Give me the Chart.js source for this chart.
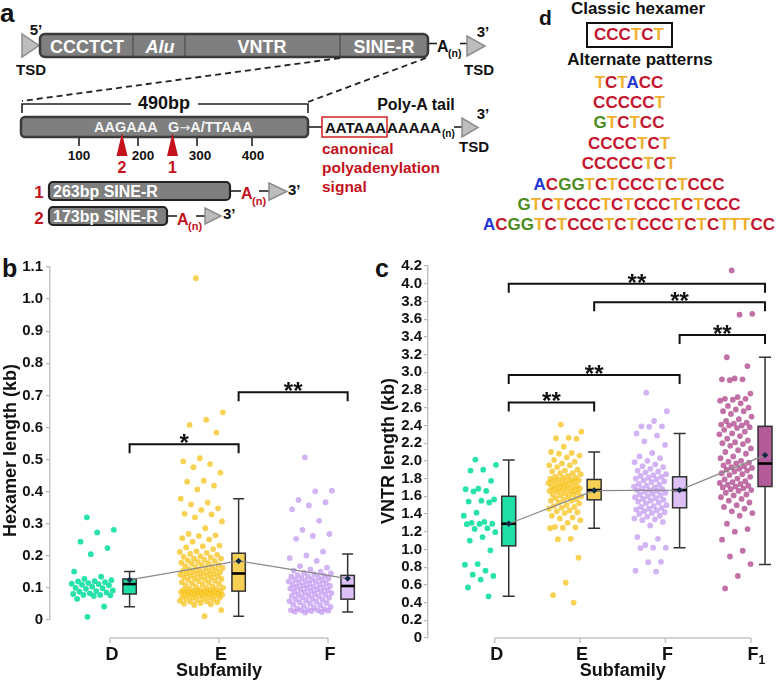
<!DOCTYPE html>
<html><head><meta charset="utf-8">
<script src="https://cdn.jsdelivr.net/npm/chart.js@4.4.1/dist/chart.umd.min.js"></script>
<style>
html,body{margin:0;padding:0;background:#fff;}
#wrap{position:relative;width:778px;height:683px;overflow:hidden;}
#diag{position:absolute;left:0;top:0;}
canvas{position:absolute;}
#cb{left:0;top:255px;}
#cc{left:380px;top:255px;}
</style></head>
<body><div id="wrap">
<svg id="diag" width="778" height="683" xmlns="http://www.w3.org/2000/svg">
<g font-family="'Liberation Sans',Arial,sans-serif" font-weight="bold" fill="#111">
<text x="0" y="22" font-size="26">a</text>
<polygon points="22,34 22,57 39,45.5" fill="#bdbdbd" stroke="#8c8c8c" stroke-width="1.5"/>
<text x="36" y="35" font-size="15" text-anchor="middle">5&#8217;</text>
<text x="31" y="75" font-size="15" text-anchor="middle">TSD</text>
<rect x="40" y="34" width="388" height="23" rx="5" fill="#7f7f7f" stroke="#3a3a3a" stroke-width="2.5"/>
<line x1="133" y1="35" x2="133" y2="56" stroke="#505050" stroke-width="1.3"/>
<line x1="185" y1="35" x2="185" y2="56" stroke="#505050" stroke-width="1.3"/>
<line x1="340" y1="35" x2="340" y2="56" stroke="#505050" stroke-width="1.3"/>
<g fill="#fff" font-size="18" text-anchor="middle">
<text x="87" y="52.5">CCCTCT</text>
<text x="160" y="52.5" font-style="italic">Alu</text>
<text x="262" y="52.5">VNTR</text>
<text x="384" y="52.5">SINE-R</text>
</g>
<line x1="429" y1="43.5" x2="437" y2="43.5" stroke="#222" stroke-width="1.6"/>
<text x="437" y="52" font-size="16">A</text>
<text x="448" y="57" font-size="10.5">(n)</text>
<line x1="460" y1="43.5" x2="467" y2="43.5" stroke="#222" stroke-width="1.6"/>
<polygon points="467,36 467,56 485,46" fill="#bdbdbd" stroke="#8c8c8c" stroke-width="1.5"/>
<text x="483" y="37" font-size="15" text-anchor="middle">3&#8217;</text>
<text x="479" y="75" font-size="15" text-anchor="middle">TSD</text>
<line x1="340" y1="58" x2="22" y2="101" stroke="#222" stroke-width="1.8" stroke-dasharray="6,4"/>
<line x1="426" y1="58" x2="308" y2="102" stroke="#222" stroke-width="1.8" stroke-dasharray="6,4"/>
<path d="M22,113 V104 H131 M198,104 H308 V113" fill="none" stroke="#222" stroke-width="1.6"/>
<text x="164" y="109" font-size="18" text-anchor="middle">490bp</text>
<rect x="21" y="117" width="287" height="20" rx="4" fill="#7f7f7f" stroke="#3a3a3a" stroke-width="2.5"/>
<text x="94" y="132" font-size="14.5" fill="#f2f2f2">AAGAAA</text>
<text x="168" y="132" font-size="14.5" fill="#f2f2f2">G<tspan font-family="'DejaVu Sans',sans-serif" font-weight="normal" font-size="13">&#8594;</tspan>A/TTAAA</text>
<g stroke="#222" stroke-width="1.6">
<line x1="79" y1="138" x2="79" y2="146"/><line x1="138" y1="138" x2="138" y2="146"/>
<line x1="197" y1="138" x2="197" y2="146"/><line x1="252" y1="138" x2="252" y2="146"/>
</g>
<g font-size="13.5" text-anchor="middle">
<text x="79" y="160">100</text><text x="143" y="160">200</text><text x="200" y="160">300</text><text x="253" y="160">400</text>
</g>
<polygon points="122,133 116.5,156 127.5,156" fill="#c4121c"/>
<polygon points="172.5,133 167,156 178,156" fill="#c4121c"/>
<text x="122" y="173" font-size="16" fill="#c4121c" text-anchor="middle">2</text>
<text x="172.5" y="173" font-size="16" fill="#c4121c" text-anchor="middle">1</text>
<line x1="309" y1="127" x2="322" y2="127" stroke="#222" stroke-width="1.6"/>
<rect x="322" y="117" width="65" height="20" fill="none" stroke="#d42020" stroke-width="1.5"/>
<text x="325" y="132.5" font-size="15">AATAAA</text>
<text x="387" y="132.5" font-size="15">AAAAA</text>
<text x="442" y="137" font-size="10">(n)</text>
<line x1="454" y1="127" x2="462" y2="127" stroke="#222" stroke-width="1.6"/>
<polygon points="462,118 462,137 478,127.5" fill="#bdbdbd" stroke="#8c8c8c" stroke-width="1.5"/>
<text x="483" y="119" font-size="15" text-anchor="middle">3&#8217;</text>
<text x="474" y="152" font-size="15" text-anchor="middle">TSD</text>
<text x="416" y="110" font-size="16" text-anchor="middle">Poly-A tail</text>
<g fill="#c4121c" font-size="15.5">
<text x="322" y="154">canonical</text>
<text x="322" y="173">polyadenylation</text>
<text x="322" y="192">signal</text>
</g>
<text x="39" y="198" font-size="17" fill="#c4121c" text-anchor="middle">1</text>
<rect x="49" y="182" width="181" height="18" rx="4" fill="#7f7f7f" stroke="#222" stroke-width="2.2"/>
<text x="53" y="197" font-size="16" fill="#fff">263bp SINE-R</text>
<line x1="230" y1="191" x2="241" y2="191" stroke="#222" stroke-width="1.6"/>
<text x="241" y="199" font-size="16" fill="#c4121c">A</text>
<text x="252" y="205" font-size="11" fill="#c4121c">(n)</text>
<line x1="259" y1="191" x2="269" y2="191" stroke="#222" stroke-width="1.6"/>
<polygon points="269,183 269,200 287,191.5" fill="#bdbdbd" stroke="#8c8c8c" stroke-width="1.5"/>
<text x="288" y="195" font-size="15">3&#8217;</text>
<text x="39" y="224" font-size="17" fill="#c4121c" text-anchor="middle">2</text>
<rect x="49" y="207" width="118" height="18" rx="4" fill="#7f7f7f" stroke="#222" stroke-width="2.2"/>
<text x="53" y="222" font-size="16" fill="#fff">173bp SINE-R</text>
<line x1="167" y1="216" x2="177" y2="216" stroke="#222" stroke-width="1.6"/>
<text x="177" y="225" font-size="16" fill="#c4121c">A</text>
<text x="188" y="230" font-size="11" fill="#c4121c">(n)</text>
<line x1="196" y1="216" x2="205" y2="216" stroke="#222" stroke-width="1.6"/>
<polygon points="205,208 205,224 221,216" fill="#bdbdbd" stroke="#8c8c8c" stroke-width="1.5"/>
<text x="223" y="219" font-size="15">3&#8217;</text>
<text x="539" y="25" font-size="21">d</text>
<text x="638" y="14" font-size="17" text-anchor="middle">Classic hexamer</text>
<rect x="587" y="23" width="85" height="24" fill="none" stroke="#111" stroke-width="2"/>
<text x="640" y="65" font-size="17" text-anchor="middle">Alternate patterns</text>
<g id="seqs" font-size="17" text-anchor="middle"></g>
<text x="2" y="277" font-size="25">b</text>
<text x="375" y="277" font-size="25">c</text>
</g>
</svg>
<canvas id="cb" width="380" height="428"></canvas>
<canvas id="cc" width="398" height="428"></canvas>
</div>
<script>
// ---------- Panel d text ----------
const classicHexamer = 'CCCTCT';
const altPatterns = ['TCTACC','CCCCCT','GTCTCC','CCCCTCT','CCCCCTCT','ACGGTCTCCCTCTCCC','GTCTCCCTCTCCCTCTCCC','ACGGTCTCCCTCTCCCTCTCTTTCC'];

// ---------- Panel b data (Hexamer length, kb) ----------
const hexCats = ['D','E','F'];
const hexD = [0.320,0.281,0.273,0.244,0.224,0.205,0.151,0.135,0.128,0.124,0.121,0.120,0.118,0.115,0.113,0.112,0.110,0.108,0.104,0.100,0.099,0.097,0.092,0.090,0.088,0.086,0.083,0.081,0.078,0.078,0.077,0.075,0.066,0.042,0.010];
const hexE = [1.065,0.647,0.624,0.608,0.584,0.504,0.494,0.486,0.476,0.459,0.434,0.431,0.419,0.407,0.378,0.366,0.360,0.348,0.343,0.331,0.329,0.320,0.307,0.286,0.268,0.264,0.262,0.255,0.251,0.244,0.232,0.230,0.226,0.221,0.214,0.212,
0.209,0.206,0.203,0.199,0.197,0.195,0.192,0.191,0.188,0.186,0.184,0.181,0.179,0.177,0.176,0.172,0.171,0.168,0.166,0.164,0.162,0.161,0.158,0.157,0.155,0.153,0.152,0.150,0.149,0.147,0.146,0.144,0.143,0.141,0.140,0.138,0.137,0.135,0.133,0.132,0.130,0.128,0.126,0.125,0.122,0.121,0.118,0.116,0.114,0.112,0.110,0.107,0.105,0.103,0.101,0.099,0.097,0.096,0.094,0.093,0.092,0.091,0.090,0.090,0.089,0.089,0.088,0.087,0.086,0.085,0.084,0.083,0.082,0.081,0.080,0.079,0.078,0.077,0.076,0.075,0.073,0.072,0.071,0.069,0.067,0.066,0.064,0.062,0.060,0.058,0.057,0.055,0.053,0.051,0.049,0.047,0.031,0.012];
const hexF = [0.507,0.403,0.401,0.374,0.367,0.357,0.345,0.309,0.281,0.268,0.262,0.253,0.213,0.201,0.193,0.184,
0.168,0.163,0.158,0.154,0.151,0.147,0.145,0.143,0.140,0.138,0.136,0.135,0.133,0.131,0.129,0.127,0.126,0.124,0.122,0.120,0.119,0.117,0.115,0.113,0.111,0.110,0.108,0.106,0.104,0.103,0.101,0.100,0.098,0.096,0.095,0.093,0.091,0.089,0.088,0.086,0.084,0.082,0.080,0.079,0.077,0.075,0.073,0.071,0.069,0.067,0.065,0.063,0.061,0.059,0.057,0.055,0.053,0.051,0.048,0.046,0.044,0.041,0.039,0.036,0.034,0.032,0.031,0.030,0.030,0.029,0.028,0.026,0.025,0.023];
const hexMin  = [0.041,0.012,0.025];
const hexQ1   = [0.081,0.090,0.065];
const hexMed  = [0.112,0.145,0.106];
const hexQ3   = [0.128,0.208,0.139];
const hexMax  = [0.151,0.378,0.206];
const hexMean = [0.125,0.184,0.129];
const hexBrFrom = [1,2];
const hexBrTo   = [2,3];
const hexBrY    = [0.548,0.710];
const hexBrLab  = ['*','**'];

// ---------- Panel c data (VNTR length, kb) ----------
const vntrCats = ['D','E','F','F\u2081'];
const vntrD = [2.015,1.955,1.900,1.890,1.775,1.685,1.680,1.660,1.655,1.565,1.550,1.540,1.530,1.415,1.380,1.310,1.300,1.290,1.288,1.285,1.240,1.232,1.195,1.140,1.100,0.990,0.835,0.828,0.760,0.715,0.700,0.660,0.570,0.470];
const vntrE = [2.41,2.33,2.26,2.255,2.25,2.16,2.10,2.09,2.08,2.06,2.04,2.01,1.99,
1.97,1.95,1.95,1.93,1.90,1.89,1.88,1.86,1.86,1.85,1.83,1.82,1.81,1.81,1.80,1.79,1.79,1.78,1.77,1.77,1.76,1.75,1.75,1.74,1.73,1.72,1.72,1.71,1.70,1.70,1.69,1.69,1.68,1.67,1.67,1.66,1.65,1.65,1.64,1.63,1.62,1.62,1.61,1.60,1.59,1.58,1.57,1.56,1.55,1.55,1.53,1.52,1.50,1.49,1.48,1.47,1.46,1.44,1.43,1.42,1.41,1.38,1.36,1.35,1.33,1.30,
1.255,1.25,1.245,1.24,1.12,1.115,0.906,0.625,0.483,0.400];
const vntrF = [2.77,2.56,2.45,2.39,2.39,2.385,2.31,2.285,2.22,2.18,2.09,2.05,2.03,2.00,1.985,
1.96,1.94,1.93,1.91,1.89,1.88,1.87,1.85,1.84,1.83,1.82,1.81,1.80,1.79,1.78,1.77,1.76,1.74,1.73,1.72,1.71,1.70,1.69,1.68,1.67,1.67,1.66,1.65,1.64,1.63,1.62,1.61,1.60,1.59,1.58,1.57,1.56,1.55,1.54,1.53,1.52,1.50,1.49,1.48,1.47,1.46,1.45,1.44,1.43,1.42,1.41,1.40,1.38,1.37,1.35,1.34,1.33,1.31,
1.27,1.14,1.12,1.05,1.02,1.02,1.015,0.86,0.855,0.76,0.75];
const vntrF1 = [4.15,3.66,3.65,3.17,3.07,2.93,2.92,2.92,2.91,2.76,2.72,2.70,2.70,2.69,2.68,2.65,2.62,2.60,2.58,2.56,2.56,2.53,2.50,2.47,2.45,2.43,2.42,2.41,2.40,2.40,2.38,2.37,2.35,2.33,2.31,2.30,2.28,2.25,2.23,2.21,2.20,2.19,2.17,2.14,2.12,2.10,2.08,2.05,2.03,2.00,1.99,1.98,1.97,1.95,1.94,1.93,1.92,1.91,1.90,1.89,1.88,1.86,1.85,1.84,1.82,1.80,1.79,1.77,1.76,1.75,1.74,1.73,1.72,1.71,1.70,1.69,1.68,1.67,1.66,1.64,1.62,1.61,1.59,1.57,1.55,1.53,1.50,1.48,1.46,1.43,1.41,1.38,1.29,1.23,1.20,1.11,0.985,0.92,0.835,0.70,0.56];
const vntrMin  = [0.47,1.24,1.02,0.83];
const vntrQ1   = [1.04,1.56,1.47,1.71];
const vntrMed  = [1.29,1.67,1.67,1.97];
const vntrQ3   = [1.60,1.79,1.82,2.39];
const vntrMax  = [2.01,2.10,2.31,3.17];
const vntrMean = [1.29,1.665,1.67,2.065];
const vntrBrFrom = [1,1,3,2,1];
const vntrBrTo   = [2,3,4,4,4];
const vntrBrY    = [2.66,2.97,3.42,3.79,4.00];
const vntrBrLab  = ['**','**','**','**','**'];

// ---------- Panel d rendering ----------
const baseColor = {C:'#c4162e', T:'#f0b030', A:'#1e36d4', G:'#4c8c22'};
const NS = 'http://www.w3.org/2000/svg';
function seqText(seq, x, y) {
  const t = document.createElementNS(NS, 'text');
  t.setAttribute('x', x); t.setAttribute('y', y);
  for (const ch of seq) {
    const s = document.createElementNS(NS, 'tspan');
    s.setAttribute('fill', baseColor[ch]); s.textContent = ch; t.appendChild(s);
  }
  document.getElementById('seqs').appendChild(t);
}
seqText(classicHexamer, 629, 40);
const rowY = [88,108,128,149,169,190,210,230];
altPatterns.forEach((s, i) => seqText(s, 629, rowY[i]));

// ---------- Charts ----------
Chart.defaults.font.family = "'Liberation Sans', Arial, sans-serif";
const FONT = "'Liberation Sans', Arial, sans-serif";

function pts(vals, cat, lo, hi) {
  return vals.map((v, i) => ({x: cat + lo + ((i * 0.6180339887 + 0.37) % 1) * (hi - lo), y: v}));
}

function makePlugin(cfg) {
  return {
    id: 'custom_' + cfg.id,
    beforeDatasetsDraw(chart) {
      const ctx = chart.ctx, xs = chart.scales.x, ys = chart.scales.y;
      cfg.cats.forEach((c, i) => {
        const cx = xs.getPixelForValue(i + 1 + cfg.off);
        const yMin = ys.getPixelForValue(cfg.min[i]), yMax = ys.getPixelForValue(cfg.max[i]);
        const yQ1 = ys.getPixelForValue(cfg.q1[i]), yQ3 = ys.getPixelForValue(cfg.q3[i]);
        const yMed = ys.getPixelForValue(cfg.med[i]);
        ctx.save();
        ctx.strokeStyle = '#333'; ctx.lineWidth = 1.5;
        ctx.beginPath();
        ctx.moveTo(cx, yMax); ctx.lineTo(cx, yMin);
        ctx.moveTo(cx - cfg.cap, yMax); ctx.lineTo(cx + cfg.cap, yMax);
        ctx.moveTo(cx - cfg.cap, yMin); ctx.lineTo(cx + cfg.cap, yMin);
        ctx.stroke();
        ctx.fillStyle = cfg.boxFill[i];
        ctx.fillRect(cx - cfg.hw, yQ3, 2 * cfg.hw, yQ1 - yQ3);
        ctx.strokeRect(cx - cfg.hw, yQ3, 2 * cfg.hw, yQ1 - yQ3);
        ctx.strokeStyle = '#000'; ctx.lineWidth = 2.6;
        ctx.beginPath(); ctx.moveTo(cx - cfg.hw, yMed); ctx.lineTo(cx + cfg.hw, yMed); ctx.stroke();
        ctx.restore();
      });
    },
    afterDatasetsDraw(chart) {
      const ctx = chart.ctx, xs = chart.scales.x, ys = chart.scales.y;
      ctx.save();
      ctx.strokeStyle = '#111'; ctx.lineWidth = 2; ctx.fillStyle = '#111';
      ctx.font = 'bold 24px ' + FONT; ctx.textAlign = 'center'; ctx.textBaseline = 'alphabetic';
      cfg.brFrom.forEach((f, i) => {
        const x1 = xs.getPixelForValue(f + cfg.off), x2 = xs.getPixelForValue(cfg.brTo[i] + cfg.off);
        const y = ys.getPixelForValue(cfg.brY[i]);
        ctx.beginPath();
        ctx.moveTo(x1, y + 9); ctx.lineTo(x1, y); ctx.lineTo(x2, y); ctx.lineTo(x2, y + 9);
        ctx.stroke();
        ctx.fillText(cfg.brLab[i], (x1 + x2) / 2, y + 7);
      });
      ctx.restore();
    },
    afterDraw(chart) {
      const ctx = chart.ctx, xs = chart.scales.x, ca = chart.chartArea;
      const ay = ca.bottom + cfg.axisGap;
      ctx.save();
      ctx.strokeStyle = '#c4c4c4'; ctx.lineWidth = 1.5;
      ctx.beginPath();
      ctx.moveTo(xs.getPixelForValue(1), ay); ctx.lineTo(xs.getPixelForValue(cfg.cats.length), ay);
      cfg.cats.forEach((c, i) => { const x = xs.getPixelForValue(i + 1); ctx.moveTo(x, ay); ctx.lineTo(x, ay + 5); });
      ctx.stroke();
      ctx.fillStyle = '#111'; ctx.textBaseline = 'alphabetic';
      cfg.cats.forEach((c, i) => {
        const x = xs.getPixelForValue(i + 1) + 2;
        const m = c.match(/^(.*?)([\u2080-\u2089])$/);
        ctx.font = 'bold 18px ' + FONT; ctx.textAlign = 'center';
        if (m) {
          ctx.fillText(m[1], x, cfg.labY);
          const w = ctx.measureText(m[1]).width;
          ctx.font = 'bold 12px ' + FONT; ctx.textAlign = 'left';
          ctx.fillText(String(m[2].charCodeAt(0) - 0x2080), x + w / 2, cfg.labY + 4);
        } else {
          ctx.fillText(c, x, cfg.labY);
        }
      });
      ctx.font = 'bold 18px ' + FONT; ctx.textAlign = 'center';
      ctx.fillText('Subfamily', cfg.xTitleX(xs), cfg.xTitleY);
      ctx.translate(cfg.yTitleX, cfg.yTitleY); ctx.rotate(-Math.PI / 2);
      ctx.textBaseline = 'middle';
      ctx.fillText(cfg.yTitle, 0, 0);
      ctx.restore();
    }
  };
}

function makeChart(id, cfg) {
  const datasets = [{
    type: 'line', data: cfg.mean.map((m, i) => ({x: i + 1 + cfg.off, y: m})),
    borderColor: '#8a8a8a', borderWidth: 1.3, showLine: true, fill: false, tension: 0,
    pointStyle: 'rectRot', pointRadius: 3.2, pointBackgroundColor: '#0d2b45', pointBorderWidth: 0
  }];
  cfg.groups.forEach((g, i) => datasets.push({
    data: pts(g, i + 1, cfg.jlo, cfg.jhi), backgroundColor: cfg.dot[i], borderWidth: 0, pointRadius: cfg.r
  }));
  return new Chart(document.getElementById(id), {
    type: 'scatter',
    data: {datasets},
    options: {
      responsive: false, animation: false, devicePixelRatio: 1,
      layout: {padding: cfg.pad},
      plugins: {legend: {display: false}, tooltip: {enabled: false}},
      events: [],
      scales: {
        x: {type: 'linear', min: cfg.xmin, max: cfg.xmax, display: false},
        y: {
          min: 0, max: cfg.ymax,
          afterFit: s => { s.width = cfg.yw; },
          ticks: {stepSize: cfg.step, color: '#111', padding: cfg.tickPad, autoSkip: false,
                  font: {size: 15, weight: 'bold', family: FONT},
                  callback: v => Math.abs(v) < 1e-9 ? '0' : Number(v).toFixed(1)},
          grid: {drawOnChartArea: false, drawTicks: true, tickLength: 4, color: '#b4b4b4', lineWidth: 1.2},
          border: {display: true, color: '#c4c4c4', width: 1.5}
        }
      }
    },
    plugins: [makePlugin(cfg)]
  });
}

makeChart('cb', {
  id: 'b', cats: hexCats, groups: [hexD, hexE, hexF],
  min: hexMin, q1: hexQ1, med: hexMed, q3: hexQ3, max: hexMax, mean: hexMean,
  brFrom: hexBrFrom, brTo: hexBrTo, brY: hexBrY, brLab: hexBrLab,
  dot: ['rgba(28,224,166,0.95)', 'rgba(247,192,20,0.72)', 'rgba(192,150,240,0.72)'],
  boxFill: ['#20dfa6', '#f6cf55', '#dcc0f6'],
  off: 0.18, hw: 6.7, cap: 5.5, r: 2.9, jlo: -0.36, jhi: 0.04,
  xmin: 0.45, xmax: 3.385, ymax: 1.1, step: 0.1, yw: 50, tickPad: 3,
  pad: {left: 0, right: 10, top: 12, bottom: 63},
  axisGap: 18, labY: 405, xTitleX: xs => xs.getPixelForValue(2), xTitleY: 421,
  yTitle: 'Hexamer length (kb)', yTitleX: 11, yTitleY: 195.5
});

makeChart('cc', {
  id: 'c', cats: vntrCats, groups: [vntrD, vntrE, vntrF, vntrF1],
  min: vntrMin, q1: vntrQ1, med: vntrMed, q3: vntrQ3, max: vntrMax, mean: vntrMean,
  brFrom: vntrBrFrom, brTo: vntrBrTo, brY: vntrBrY, brLab: vntrBrLab,
  dot: ['rgba(28,224,166,0.95)', 'rgba(247,192,20,0.72)', 'rgba(192,150,240,0.72)', 'rgba(165,45,125,0.68)'],
  boxFill: ['#20dfa6', '#f6cf55', '#dcc0f6', '#b45c9a'],
  off: 0.165, hw: 7, cap: 6, r: 2.9, jlo: -0.37, jhi: 0.02,
  xmin: 0.22, xmax: 4.27, ymax: 4.2, step: 0.2, yw: 48, tickPad: 2,
  pad: {left: 0, right: 3, top: 10, bottom: 45},
  axisGap: 0, labY: 405, xTitleX: xs => (xs.getPixelForValue(2) + xs.getPixelForValue(3)) / 2, xTitleY: 421,
  yTitle: 'VNTR length (kb)', yTitleX: 9, yTitleY: 196
});
</script>
</body></html>
